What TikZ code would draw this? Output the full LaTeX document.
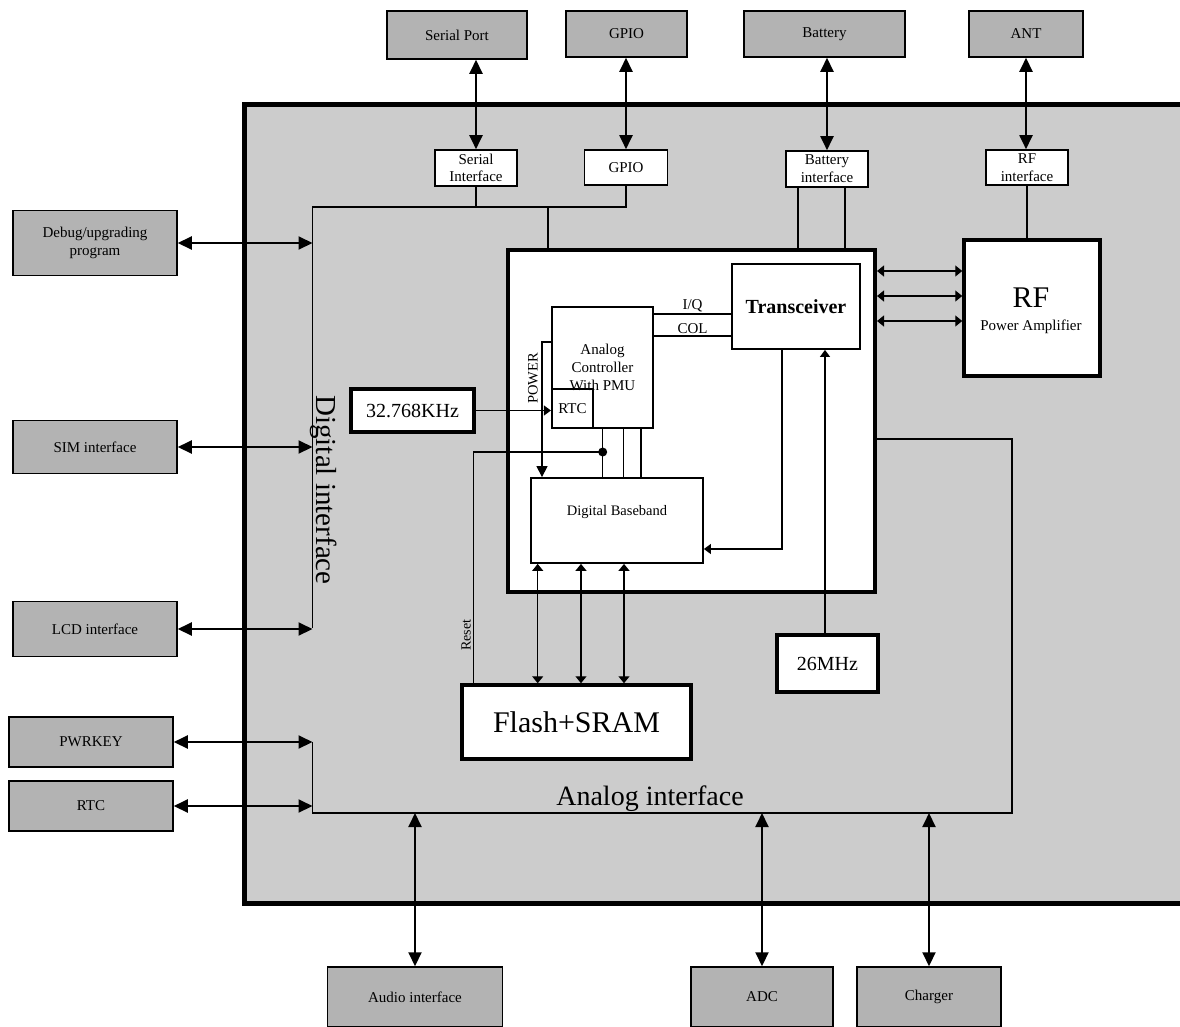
\documentclass[tikz,border=0pt]{standalone}
\usepackage{fontspec}
\setmainfont{Liberation Serif}
\usetikzlibrary{arrows.meta}
\definecolor{outergray}{HTML}{CCCCCC}
\definecolor{extgray}{HTML}{B3B3B3}
\newcommand{\myfs}[2]{\fontsize{#1}{#2}\selectfont}
\begin{document}
\begin{tikzpicture}[x=1pt,y=-1pt,
  sz/.style 2 args={minimum width=#1pt,minimum height=#2pt},
  ext/.style={draw,line width=1.5pt,fill=extgray,inner sep=0pt,align=center,font=\myfs{15}{17.7}},
  ifc/.style={draw,line width=1.6pt,fill=white,inner sep=0pt,align=center,font=\myfs{15}{17.7}},
  blk/.style={draw,line width=1.8pt,fill=white,inner sep=0pt,align=center},
  thk/.style={draw,line width=3.5pt,fill=white,inner sep=0pt,align=center},
  txt/.style={inner sep=0pt},
  wire/.style={line width=1.2pt},
  bus/.style={line width=1.8pt},
  bigbi/.style={line width=2pt,{Triangle[length=14pt,width=13pt]}-{Triangle[length=14pt,width=13pt]}},
  smbi/.style={line width=1.3pt,{Triangle[length=7pt,width=11pt]}-{Triangle[length=7pt,width=11pt]}},
  smto/.style={line width=1.2pt,-{Triangle[length=7pt,width=10pt]}},
  mdto/.style={line width=1.2pt,-{Triangle[length=11pt,width=11pt]}},
]
\useasboundingbox (0,0) rectangle (1180,1026);
\clip (0,0) rectangle (1180,1026);

% outer module
\fill[outergray] (244,104) rectangle (1195,903);
\draw[line width=5pt] (1195,104) -- (244,104) -- (244,903) -- (1195,903);

% helper coordinates
\coordinate (digtop) at (312.5,207);
\coordinate (digbot) at (312.5,628);
\coordinate (an1) at (312.5,742);
\coordinate (an2) at (312.5,813);
\coordinate (an3) at (1012,813);
\coordinate (an4) at (1012,439);
\coordinate (dbus) at (548.3,207);
\coordinate (bl1) at (798,0);
\coordinate (bl2) at (845,0);

% external blocks
\node[ext,sz={140}{48}] (sp) at (457,35) {Serial Port};
\node[ext,sz={121}{46}] (gpio) at (626.5,34) {GPIO};
\node[ext,sz={161}{46}] (bat) at (824.5,34) {Battery};
\node[ext,sz={114}{46}] (ant) at (1026,34) {ANT};

\node[ext,sz={164}{65}] (dbg) at (95,243) {Debug/upgrading\\program};
\node[ext,sz={164}{53}] (sim) at (95,447) {SIM interface};
\node[ext,sz={164}{55}] (lcd) at (95,629) {LCD interface};
\node[ext,sz={164}{50}] (pwr) at (91,742) {PWRKEY};
\node[ext,sz={164}{50}] (rtcx) at (91,806) {RTC};

\node[ext,sz={175}{60}] (audio) at (415,997) {Audio interface};
\node[ext,sz={142}{60}] (adc) at (762,997) {ADC};
\node[ext,sz={144}{60}] (chg) at (929,997) {Charger};

% interface blocks
\node[ifc,sz={82}{36}] (sif) at (476,168) {Serial\\Interface};
\node[ifc,sz={83}{35}] (gpioi) at (626,167.5) {GPIO};
\node[ifc,sz={82}{36}] (bif) at (827,169) {Battery\\interface};
\node[ifc,sz={82}{35}] (rfi) at (1027,167.5) {RF\\interface};

% analog interface outline (under the inner box)
\draw[line width=1.4pt] (876,439) -- (an4) -- (an3) -- (an2) -- (an1);
\draw[line width=2.6pt] (an2) -- (327,813);

% digital bus
\draw[bus] (sif.south) -- (sif.south |- digtop);
\draw[bus] (gpioi.south) -- (gpioi.south |- digtop) -- (digtop) -- (digbot);
\draw[bus] (dbus) -- (548.3,250);
\draw[bus] (bif.south -| bl1) -- (798,250);
\draw[bus] (bif.south -| bl2) -- (845,250);

% inner chipset box
\node[draw,line width=4pt,fill=white,sz={367}{342}] (ib) at (691.5,421) {};

% RF power amplifier
\node[thk,sz={136}{136}] (rfpa) at (1032,308) {};
\node[txt,font=\myfs{30}{30}] (rft) at (1031,298) {RF};
\node[txt,font=\myfs{15}{18},anchor=base] (rfpat) at (1031,330) {Power Amplifier};
\draw[bus] (rfi.south) -- (rfi.south |- rfpa.north);

% internal blocks
\node[blk,sz={128}{85},font=\bfseries\myfs{20}{22}] (trx) at (796,306.5) {Transceiver};
\node[blk,sz={101}{121},font=\myfs{15}{18}] (ac) at (602.5,367.5) {Analog\\Controller\\With PMU};
\node[draw,line width=2.2pt,inner sep=0pt,sz={41}{39},font=\myfs{15}{18}] (rtc) at (572.5,408.5) {RTC};
\node[blk,sz={172}{85}] (db) at (617,520.5) {};
\node[txt,font=\myfs{14.5}{17}] (dbt) at (617,512) {Digital Baseband};
\node[thk,sz={229}{74},font=\myfs{30}{32}] (flash) at (576.5,722) {Flash+SRAM};
\node[thk,sz={101}{57},font=\myfs{20}{22}] (mhz) at (827.5,663.5) {26MHz};
\node[thk,sz={123}{43},font=\myfs{20}{22}] (xtal) at (412.5,410.5) {32.768KHz};

% big labels
\node[txt,rotate=-90,font=\myfs{29}{30}] (dilabel) at (324,490) {Digital interface};
\node[txt,font=\myfs{28}{30},anchor=base] (anlabel) at (650,805) {Analog interface};

% top external arrows
\draw[bigbi] (sp.south -| sif.north) -- (sif.north);
\draw[bigbi] (gpio.south -| gpioi.north) -- (gpioi.north);
\draw[bigbi] (bat.south -| bif.north) -- (bif.north);
\draw[bigbi] (ant.south) -- (ant.south |- rfi.north);

% left external arrows
\draw[bigbi] (dbg.east) -- (dbg.east -| digtop);
\draw[bigbi] (sim.east) -- (sim.east -| digtop);
\draw[bigbi] (lcd.east) -- (lcd.east -| digtop);
\draw[bigbi] (pwr.east) -- (pwr.east -| an1);
\draw[bigbi] (rtcx.east) -- (rtcx.east -| an1);

% bottom external arrows
\draw[bigbi] (audio.north) -- (audio.north |- an2);
\draw[bigbi] (adc.north) -- (adc.north |- an2);
\draw[bigbi] (chg.north) -- (chg.north |- an2);

% chipset <-> RF PA
\foreach \yy/\nn in {271/a,296/b,321/c} {
  \coordinate (r\nn) at (0,\yy);
  \draw[smbi] (ib.east |- r\nn) -- (rfpa.west |- r\nn);
}

% I/Q and COL
\coordinate (iq) at (0,314);
\coordinate (col) at (0,336);
\draw[wire] (ac.east |- iq) -- (trx.west |- iq) node[midway,above,inner sep=1pt,font=\myfs{15}{18}] {I/Q};
\draw[wire] (ac.east |- col) -- (trx.west |- col) node[midway,above,inner sep=2pt,font=\myfs{15}{18}] {COL};

% POWER
\coordinate (pw) at (542,342);
\draw[mdto] (ac.west |- pw) -- (pw) -- (pw |- db.north);
\node[txt,rotate=90,font=\myfs{14.5}{16}] (powt) at (533,378.5) {POWER};

% 32.768KHz -> RTC
\draw[smto] (xtal.east) -- (xtal.east -| rtc.west);

% analog controller -> digital baseband
\coordinate (v1) at (602.7,0);
\coordinate (v2) at (623.3,0);
\coordinate (v3) at (641,0);
\draw[wire] (ac.south -| v1) -- (db.north -| v1);
\draw[wire] (ac.south -| v2) -- (db.north -| v2);
\draw[wire] (ac.south -| v3) -- (db.north -| v3);
\coordinate (dot) at (602.7,452);
\fill (dot) circle (4.5pt);

% Reset
\coordinate (rs) at (473.3,452);
\draw[wire] (dot) -- (rs) -- (rs |- flash.north);
\node[txt,rotate=90,font=\myfs{14}{16}] (rst) at (466,635) {Reset};

% transceiver -> digital baseband
\coordinate (td) at (782,549);
\draw[smto] (trx.south -| td) -- (td) -- (td -| db.east);

% 26MHz -> transceiver
\coordinate (mz) at (825,0);
\draw[smto] (mhz.north -| mz) -- (trx.south -| mz);

% digital baseband <-> flash
\foreach \xx/\nn in {537.7/a,581/b,624/c} {
  \coordinate (f\nn) at (\xx,0);
  \draw[smbi] (db.south -| f\nn) -- (flash.north -| f\nn);
}
\end{tikzpicture}
\end{document}
